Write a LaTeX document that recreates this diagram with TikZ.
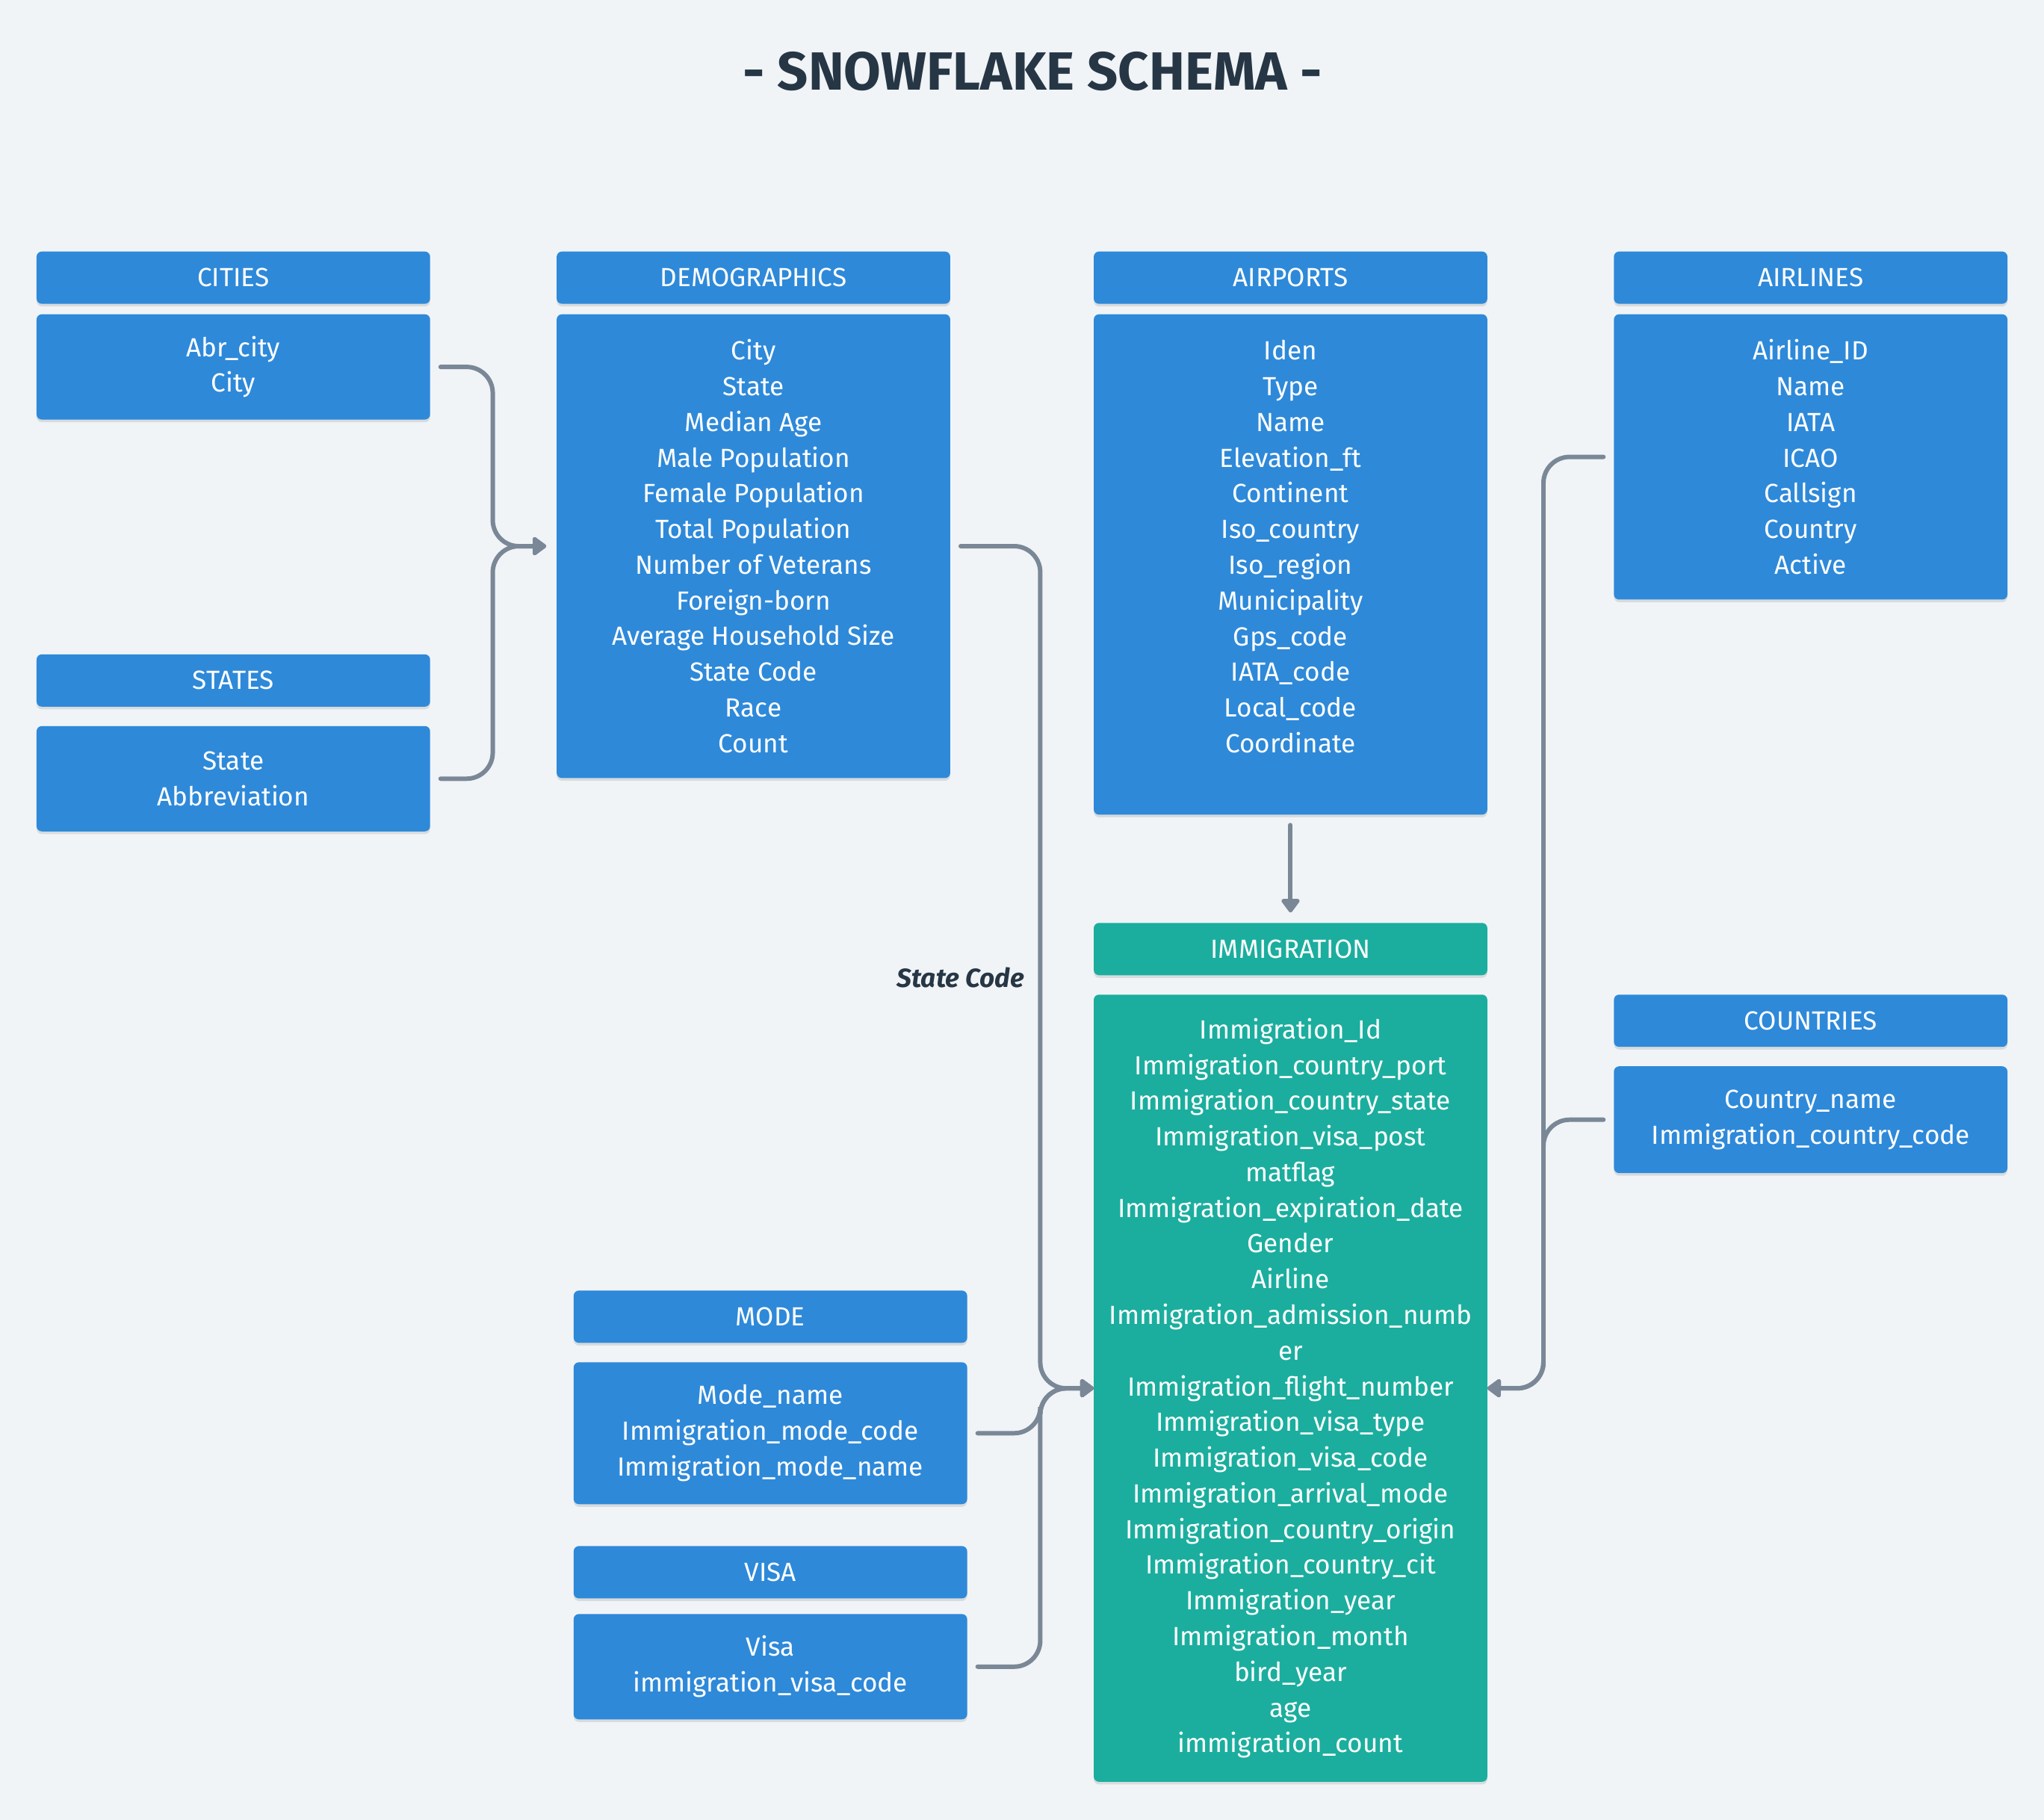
\documentclass[tikz,border=0pt]{standalone}
\usepackage{fontspec}
\setmainfont{Fira Sans}
\usetikzlibrary{positioning,arrows.meta,shadows}
\definecolor{bgc}{HTML}{F0F4F7}
\definecolor{tblue}{HTML}{2E89D9}
\definecolor{tteal}{HTML}{1BAE9E}
\definecolor{linec}{HTML}{7A8796}
\definecolor{titlec}{HTML}{263645}
\begin{document}
\begin{tikzpicture}[x=0.01745cm, y=-0.01745cm,
    hdr/.style={fill=tblue, text=white, rounded corners=2pt, inner sep=0pt, outer sep=0pt,
      minimum width=5.27cm, minimum height=0.70cm, font=\fontsize{10}{13.6}\selectfont,
      drop shadow={shadow xshift=0pt, shadow yshift=-1pt, opacity=0.10, fill=black}},
    body/.style={hdr, align=center},
    imm/.style={fill=tteal},
    link/.style={draw=linec, line width=1.7pt, line cap=round, rounded corners=0.35cm,
      shorten <=0.14cm, shorten >=0.14cm, -{Triangle[round, length=0.2cm, width=0.28cm]}},
    tofact/.style={link, shorten >=0pt}]
    \fill[bgc] (0,0) rectangle (1568,1396);
    \useasboundingbox (0,0) rectangle (1568,1396);
    \node[font=\fontsize{20.5}{20.5}\selectfont\bfseries, text=titlec] (title) at (792,55) {- SNOWFLAKE SCHEMA -};
    % dimension tables
    \node[hdr] (cith) at (179,213) {CITIES};
    \node[body, minimum height=1.41cm] (citb) [below=0.14cm of cith] {Abr\_city\\City};
    \node[hdr] (sth) at (179,522) {STATES};
    \node[body, minimum height=1.41cm] (stb) [below=0.26cm of sth] {State\\Abbreviation};
    \node[hdr] (demh) at (578,213) {DEMOGRAPHICS};
    \node[body, minimum height=6.21cm] (demb) [below=0.14cm of demh] {City\\State\\Median Age\\Male Population\\Female Population\\Total Population\\Number of Veterans\\Foreign-born\\Average Household Size\\State Code\\Race\\Count};
    \node[hdr] (aph) at (990,213) {AIRPORTS};
    \node[body, minimum height=6.70cm] (apb) [below=0.14cm of aph] {Iden\\Type\\Name\\Elevation\_ft\\Continent\\Iso\_country\\Iso\_region\\Municipality\\Gps\_code\\IATA\_code\\Local\_code\\Coordinate\\\phantom{C}};
    \node[hdr] (alh) at (1389,213) {AIRLINES};
    \node[body, minimum height=3.82cm] (alb) [below=0.14cm of alh] {Airline\_ID\\Name\\IATA\\ICAO\\Callsign\\Country\\Active};
    \node[hdr] (coh) at (1389,783) {COUNTRIES};
    \node[body, minimum height=1.43cm] (cob) [below=0.26cm of coh] {Country\_name\\Immigration\_country\_code};
    \node[hdr] (moh) at (591,1010) {MODE};
    \node[body, minimum height=1.90cm] (mob) [below=0.26cm of moh] {Mode\_name\\Immigration\_mode\_code\\Immigration\_mode\_name};
    \node[hdr] (vih) at (591,1206) {VISA};
    \node[body, minimum height=1.41cm] (vib) [below=0.21cm of vih] {Visa\\immigration\_visa\_code};
    % fact table
    \node[hdr, imm] (imh) at (990,728) {IMMIGRATION};
    \node[body, imm, minimum height=10.54cm] (imb) [below=0.26cm of imh] {Immigration\_Id\\Immigration\_country\_port\\Immigration\_country\_state\\Immigration\_visa\_post\\matflag\\Immigration\_expiration\_date\\Gender\\Airline\\Immigration\_admission\_numb\\er\\Immigration\_flight\_number\\Immigration\_visa\_type\\Immigration\_visa\_code\\Immigration\_arrival\_mode\\Immigration\_country\_origin\\Immigration\_country\_cit\\Immigration\_year\\Immigration\_month\\bird\_year\\age\\immigration\_count};
    % joins
    \coordinate (jdem) at (378,419);
    \coordinate (jleft) at (798,1065);
    \coordinate (jright) at (1184,1065);
    \draw[link] (citb.east) -| (jdem) -- (demb.west);
    \draw[link] (stb.east) -| (jdem) -- (demb.west);
    \draw[tofact] (demb.east) -| (jleft) -- (imb.west);
    \draw[tofact] (mob.east) -| (jleft) -- (imb.west);
    \draw[tofact] (vib.east) -| (jleft) -- (imb.west);
    \draw[tofact] (alb.west) -| (jright) -- (imb.east);
    \draw[tofact] (cob.west) -| (jright) -- (imb.east);
    \draw[link] (apb.south) -- (imh.north);
    \node[anchor=east, inner sep=0pt, font=\fontsize{10}{12}\selectfont\bfseries\itshape, text=titlec] (lbl) at (786,750) {State Code};
\end{tikzpicture}
\end{document}
